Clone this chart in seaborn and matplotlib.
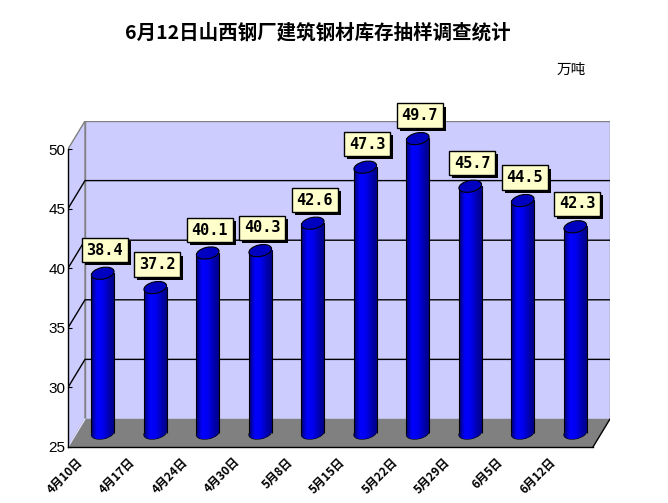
import numpy as np
import pandas as pd
import matplotlib
matplotlib.use('Agg')
import matplotlib.pyplot as plt
import seaborn as sns
from matplotlib.patches import Polygon, Rectangle, Ellipse
from matplotlib.colors import LinearSegmentedColormap
from matplotlib import patheffects
from matplotlib.transforms import ScaledTranslation

# data
dates = ['4月10日', '4月17日', '4月24日', '4月30日', '5月8日',
         '5月15日', '5月22日', '5月29日', '6月5日', '6月12日']
values = [38.4, 37.2, 40.1, 40.3, 42.6, 47.3, 49.7, 45.7, 44.5, 42.3]
y_ticks = [25, 30, 35, 40, 45, 50]

title = '6月12日山西钢厂建筑钢材库存抽样调查统计'
unit = '万吨'

sns.set_style('white')
plt.rcParams['font.family'] = ['Noto Sans CJK SC', 'DejaVu Sans']
plt.rcParams['text.color'] = 'black'
plt.rcParams['xtick.color'] = 'black'
plt.rcParams['ytick.color'] = 'black'

fig = plt.figure(figsize=(6.68, 5.03), dpi=100)
ax = fig.add_axes([68 / 668, 56 / 503, 542 / 668, 326 / 503])

ymin, ymax = y_ticks[0], y_ticks[-1]
dx, dy = 0.324, 2.35          # depth of the 3D box (category units, value units)
n = len(dates)
x_left, x_right = -0.5, n - 0.5

# bodies of the cylinders
df = pd.DataFrame({'date': dates, 'value': values})
sns.barplot(data=df, x='date', y='value', color='#0000ff', saturation=1,
            width=0.44, errorbar=None, ax=ax, zorder=4)
bars = list(ax.patches)

# walls and floor
ax.add_patch(Rectangle((x_left + dx, ymin + dy), n, ymax - ymin,
                       fc='#ccccff', ec='#808080', lw=1, zorder=0))
ax.add_patch(Polygon([(x_left, ymin), (x_left + dx, ymin + dy),
                      (x_left + dx, ymax + dy), (x_left, ymax)],
                     closed=True, fc='#ccccff', ec='#808080', lw=1, zorder=0))
ax.add_patch(Polygon([(x_left, ymin), (x_right, ymin),
                      (x_right + dx, ymin + dy), (x_left + dx, ymin + dy)],
                     closed=True, fc='#808080', ec='none', zorder=1))
ax.plot([x_right, x_right + dx], [ymin, ymin + dy], color='black', lw=1, zorder=1.5)
ax.plot([x_left, x_left + dx], [ymin, ymin + dy], color='#e0e0ff', lw=1, zorder=1.5)

for y in y_ticks[1:-1]:
    ax.plot([x_left, x_left + dx, x_right + dx], [y, y + dy, y + dy],
            color='black', lw=1, zorder=0.5)

# shading of the cylinders
shade = LinearSegmentedColormap.from_list(
    'cyl', ['#000070', '#0000ff', '#0000f0', '#0000b0', '#000080'])
grad = np.linspace(0, 1, 64).reshape(1, -1)
ew, eh, eang = 0.23, 0.115, 12   # ellipse size in inches

yb = ymin + dy / 2
for p, v in zip(bars, values):
    w = p.get_width()
    x0 = p.get_x() + dx / 2
    p.set_x(x0)
    p.set_y(yb)
    p.set_height(v - ymin)
    p.set_edgecolor('none')
    xc = x0 + w / 2
    yt = v + dy / 2

    bot = Ellipse((0, 0), ew, eh, angle=eang, fc='#0000d0', ec='black', lw=0.8,
                  transform=fig.dpi_scale_trans + ScaledTranslation(xc, yb, ax.transData),
                  zorder=3.8)
    ax.add_patch(bot)
    im = ax.imshow(grad, cmap=shade, extent=(x0, x0 + w, yb - 1.2, yb + 0.5),
                   aspect='auto', interpolation='bilinear', zorder=3.9)
    im.set_clip_path(bot)
    ax.imshow(grad, cmap=shade, extent=(x0, x0 + w, yb, yt),
              aspect='auto', interpolation='bilinear', zorder=4.1)
    ax.vlines([x0, x0 + w], yb, yt, color='black', lw=0.8, zorder=4.2)
    ax.add_patch(Ellipse((0, 0), ew, eh, angle=eang, fc='#0000c0', ec='black', lw=0.8,
                         transform=fig.dpi_scale_trans + ScaledTranslation(xc, yt, ax.transData),
                         zorder=4.3))

    t = ax.annotate(f'{v:.1f}', xy=(xc, yt), xytext=(2, 23), textcoords='offset pixels',
                    ha='center', va='center', fontsize=11, fontweight='bold',
                    family='DejaVu Sans Mono', zorder=6,
                    bbox=dict(boxstyle='square,pad=0.3', fc='#ffffcc', ec='black', lw=1))
    t.get_bbox_patch().set_path_effects([
        patheffects.SimplePatchShadow(offset=(2.2, -2.2), shadow_rgbFace='black', alpha=1),
        patheffects.Normal()])

# axes
ax.set_xlim(x_left, x_right + dx)
ax.set_ylim(ymin, ymax + dy)
ax.set_xlabel('')
ax.set_ylabel('')
for s in ['top', 'right']:
    ax.spines[s].set_visible(False)
ax.spines['left'].set_bounds(ymin, ymax)
ax.spines['bottom'].set_bounds(x_left, x_right)
for s in ['left', 'bottom']:
    ax.spines[s].set_color('black')
    ax.spines[s].set_linewidth(1)
    ax.spines[s].set_zorder(2.5)

ax.set_yticks(y_ticks)
ax.tick_params(axis='y', left=True, direction='in', length=3, pad=2,
               labelsize=11, color='black', labelcolor='black')
for lab in ax.get_yticklabels():
    lab.set_fontfamily('Liberation Sans')

ax.set_xticks(range(n), labels=dates, rotation=45, ha='right',
              fontsize=8.5, fontweight='bold')
ax.set_xticks(np.arange(0.5, n - 1, 1), minor=True)
ax.tick_params(axis='x', which='major', bottom=True, length=0, pad=6,
               labelcolor='black')
ax.tick_params(axis='x', which='minor', bottom=True, direction='in', length=5,
               width=1, color='black')
for lab in ax.get_xticklabels():
    lab.set_transform(lab.get_transform() + ScaledTranslation(-0.09, 0, fig.dpi_scale_trans))

fig.text(318 / 668, 1 - 33 / 503, title, ha='center', va='center',
         fontsize=14, fontweight='bold', color='black')
fig.text(571 / 668, 1 - 70 / 503, unit, ha='center', va='center', fontsize=10.5,
         color='black')

fig.savefig('out.png', dpi=100)
